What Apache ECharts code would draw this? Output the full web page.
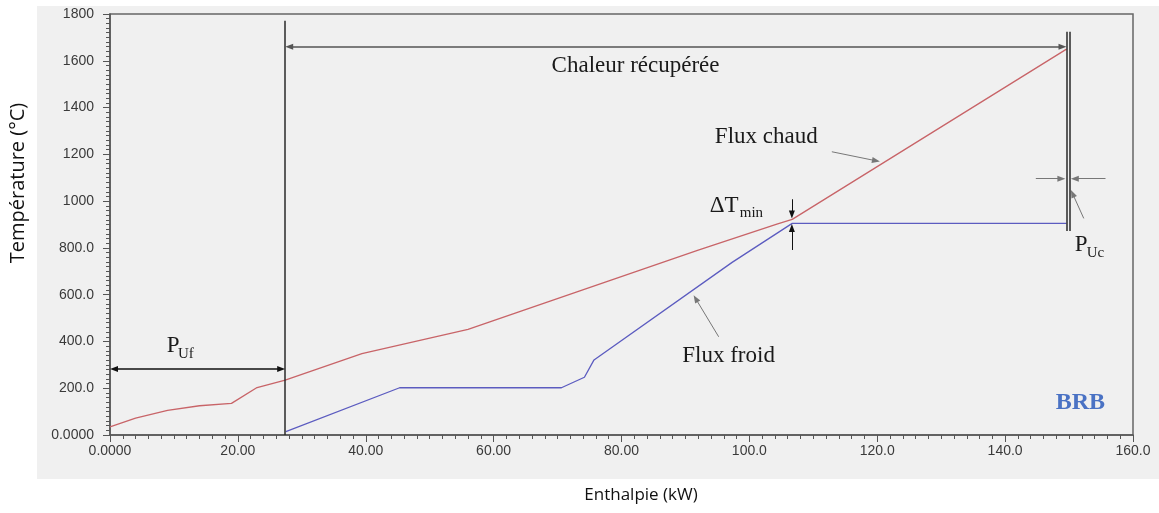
<!DOCTYPE html>
<html>
<head>
<meta charset="utf-8">
<script src="https://cdn.jsdelivr.net/npm/echarts@6/dist/echarts.min.js"></script>
<style>
  html, body { margin: 0; padding: 0; background: #ffffff; }
  #chart { width: 1159px; height: 513px; }
</style>
</head>
<body>
<div id="chart"></div>
<script>
// Composite curves: hot stream (Flux chaud) and cold stream (Flux froid)
const hotH  = [0, 4, 9, 14, 19, 23, 27.4, 39.4, 56, 92, 104.3, 106.7, 149.6];
const hotT  = [35, 72, 105, 125, 135, 203, 235, 348, 452, 790, 902, 922, 1650];
const coldH = [27.5, 45.3, 70.6, 74.2, 75.7, 97.3, 106.7, 149.6];
const coldT = [14, 202, 202, 247, 321, 738, 905, 905];

// Tick labels
const xTickLabels = ['0.0000', '20.00', '40.00', '60.00', '80.00', '100.0', '120.0', '140.0', '160.0'];
const yTickLabels = ['0.0000', '200.0', '400.0', '600.0', '800.0', '1000', '1200', '1400', '1600', '1800'];

// Characteristic enthalpies / temperatures
const recoveredStart = 27.4;     // start of recovered heat (end of cold utility)
const recoveredEnd = 149.6;      // end of recovered heat
const hotUtilityEnd = 150.1;     // end of hot utility
const pinchH = 106.65;

const hot = hotH.map((h, i) => [h, hotT[i]]);
const cold = coldH.map((h, i) => [h, coldT[i]]);

const serif = 'Liberation Serif, Times New Roman, serif';
const sans = 'Liberation Sans, Arial, sans-serif';

function markSeries(color, width, symbols, lines) {
  return {
    type: 'line', data: [], silent: true, animation: false,
    markLine: {
      silent: true, animation: false,
      symbol: symbols, symbolSize: [6, 8],
      lineStyle: { color: color, width: width, type: 'solid' },
      itemStyle: { color: '#111' },
      label: { show: false },
      emphasis: { disabled: true },
      data: lines.map(l => [{ coord: l[0] }, { coord: l[1] }])
    }
  };
}

const chart = echarts.init(document.getElementById('chart'), null, { renderer: 'canvas' });

const option = {
  animation: false,
  backgroundColor: '#ffffff',
  grid: {
    left: 110, right: 26, top: 14, bottom: 78,
    show: true, backgroundColor: 'transparent', borderColor: '#666', borderWidth: 1.5
  },
  xAxis: {
    type: 'value', min: 0, max: 160, interval: 20,
    axisLine: { show: true, onZero: false, lineStyle: { color: '#555', width: 1.5 } },
    axisTick: { show: true, length: 7, lineStyle: { color: '#555' } },
    minorTick: { show: true, splitNumber: 10, length: 4, lineStyle: { color: '#555' } },
    splitLine: { show: false },
    axisLabel: {
      margin: 9, color: '#3a3a3a', fontFamily: sans, fontSize: 14,
      formatter: v => xTickLabels[Math.round(v / 20)]
    }
  },
  yAxis: {
    type: 'value', min: 0, max: 1800, interval: 200,
    axisLine: { show: true, onZero: false, lineStyle: { color: '#555', width: 1.5 } },
    axisTick: { show: true, length: 7, lineStyle: { color: '#555' } },
    minorTick: { show: true, splitNumber: 10, length: 4, lineStyle: { color: '#555' } },
    splitLine: { show: false },
    axisLabel: {
      margin: 16, color: '#3a3a3a', fontFamily: sans, fontSize: 14,
      formatter: v => yTickLabels[Math.round(v / 200)]
    }
  },
  series: [
    {
      name: 'Flux chaud', type: 'line', data: hot, showSymbol: false, symbol: 'none',
      lineStyle: { color: '#c86468', width: 1.3 }, z: 3
    },
    {
      name: 'Flux froid', type: 'line', data: cold, showSymbol: false, symbol: 'none',
      lineStyle: { color: '#5c5cc0', width: 1.3 }, z: 3
    },
    // boundaries of the recovered heat and hot utility
    markSeries('#2a2a2a', 1.5, ['none', 'none'], [
      [[recoveredStart, 0], [recoveredStart, 1771]],
      [[recoveredEnd, 872], [recoveredEnd, 1724]],
      [[hotUtilityEnd, 872], [hotUtilityEnd, 1724]]
    ]),
    // Chaleur récupérée
    markSeries('#555', 1.6, ['triangle', 'triangle'], [
      [[recoveredStart + 0.63, 1660], [recoveredEnd - 0.63, 1660]]
    ]),
    // P_Uf
    markSeries('#111', 1.5, ['triangle', 'triangle'], [
      [[0.63, 282], [recoveredStart - 0.63, 282]]
    ]),
    // ΔTmin
    markSeries('#111', 1, ['none', 'triangle'], [
      [[pinchH, 1008], [pinchH, 943]],
      [[pinchH, 791], [pinchH, 885]]
    ]),
    // leaders and P_Uc arrows
    markSeries('#777', 1, ['none', 'triangle'], [
      [[112.9, 1211], [119.8, 1172.5]],
      [[95.2, 420], [91.6, 583]],
      [[152.3, 926], [150.55, 1032]],
      [[144.8, 1096], [148.8, 1096]],
      [[155.7, 1096], [150.9, 1096]]
    ])
  ]
};

chart.setOption(option);

// Text annotations placed in data coordinates
const notes = [
  { text: 'Chaleur récupérée', at: [82.2, 1580], align: 'center', size: 23 },
  { text: 'Flux chaud', at: [94.6, 1274], align: 'left', size: 23 },
  { text: 'Flux froid', at: [89.5, 336], align: 'left', size: 23 },
  { text: 'ΔT', at: [93.8, 979], align: 'left', size: 23 },
  { text: 'min', at: [98.5, 951], align: 'left', size: 15 },
  { text: 'P', at: [8.86, 380], align: 'left', size: 23 },
  { text: 'Uf', at: [10.63, 346], align: 'left', size: 15 },
  { text: 'P', at: [150.9, 812], align: 'left', size: 23 },
  { text: 'Uc', at: [152.75, 780], align: 'left', size: 15 },
  { text: 'BRB', at: [147.9, 137], align: 'left', size: 24, bold: true, color: '#4a72c4' }
];

const graphics = [
  {
    type: 'rect', z: -10, silent: true,
    shape: { x: 37, y: 6, width: 1122, height: 473 },
    style: { fill: '#f0f0f0' }
  },
  {
    type: 'text', x: 18, y: 183, rotation: Math.PI / 2,
    style: {
      text: 'Température (°C)', fill: '#111', font: '20px "Open Sans", sans-serif',
      textAlign: 'center', textVerticalAlign: 'middle'
    }
  },
  {
    type: 'text', x: 641, y: 495,
    style: {
      text: 'Enthalpie (kW)', fill: '#111', font: '17px "Open Sans", sans-serif',
      textAlign: 'center', textVerticalAlign: 'middle'
    }
  }
];

notes.forEach(n => {
  const p = chart.convertToPixel({ gridIndex: 0 }, n.at);
  graphics.push({
    type: 'text', x: p[0], y: p[1], silent: true, z: 10,
    style: {
      text: n.text, fill: n.color || '#1a1a1a',
      font: (n.bold ? 'bold ' : '') + n.size + 'px ' + serif,
      textAlign: n.align, textVerticalAlign: 'middle'
    }
  });
});

chart.setOption({ graphic: graphics });
</script>
</body>
</html>
